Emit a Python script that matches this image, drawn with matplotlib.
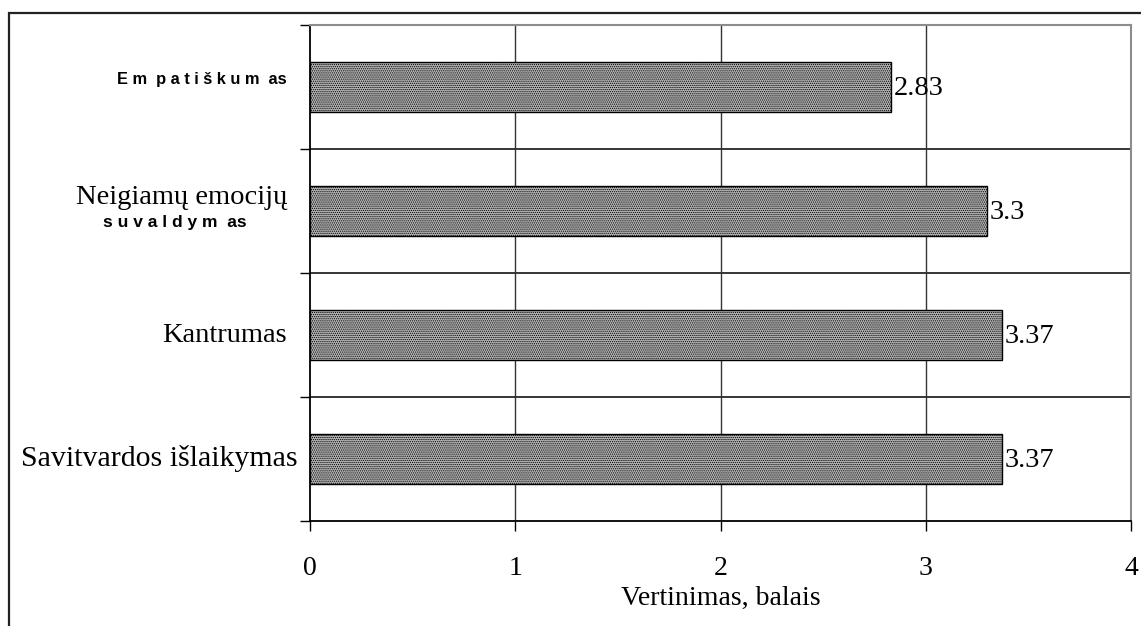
import matplotlib.pyplot as plt
from matplotlib.patches import Rectangle
from matplotlib.transforms import blended_transform_factory

# duomenys (is apacios i virsu)
kategorijos = ["Savitvardos išlaikymas", "Kantrumas", "Neigiamų emocijų suvaldymas", "Empatiškumas"]
vertes = [3.37, 3.37, 3.3, 2.83]
x_zymes = [0, 1, 2, 3, 4]

plt.rcParams['font.family'] = ['Liberation Serif', 'DejaVu Serif']
plt.rcParams['hatch.linewidth'] = 0.6

fig = plt.figure(figsize=(11.41, 6.26), dpi=100)
ax = fig.add_axes([310 / 1141, 1 - 521 / 626, 821 / 1141, 496 / 626])

# isorinis remelis
fig.patches.append(Rectangle((8.5 / 1141, -0.1), 1.2, 1 - 13 / 626 + 0.1, transform=fig.transFigure,
                             fill=False, edgecolor="#222222", linewidth=1.6))

y = list(range(len(kategorijos)))
ax.barh(y, vertes, height=0.41, color="#b4b4b4", edgecolor="black", linewidth=1.0,
        hatch="........", zorder=3)

for yi, v in zip(y, vertes):
    ax.text(v + 0.012, yi - 0.01, str(v), va="center", ha="left", fontsize=20.5, zorder=4)

ax.set_xlim(0, 4)
ax.set_ylim(-0.5, len(kategorijos) - 0.5)
ax.set_xticks(x_zymes)
ax.set_xticklabels([str(t) for t in x_zymes], fontsize=20)
ax.tick_params(axis="x", length=7, width=1, pad=18)

# ribos tarp kategoriju
ribos = [i - 0.5 for i in range(len(kategorijos) + 1)]
ax.set_yticks(ribos)
ax.set_yticklabels([])
ax.tick_params(axis="y", length=7, width=1)

for r in ribos[1:-1]:
    ax.axhline(r, color="black", linewidth=1.1, zorder=1)
for t in x_zymes[1:-1]:
    ax.axvline(t, color="#333333", linewidth=1.0, zorder=1)

ax.spines["left"].set_linewidth(1.3)
ax.spines["bottom"].set_linewidth(1.3)
ax.spines["top"].set_color("#8c8c8c")
ax.spines["right"].set_color("#8c8c8c")
ax.spines["top"].set_linewidth(1.5)
ax.spines["right"].set_linewidth(1.5)

# kategoriju pavadinimai
tr = blended_transform_factory(ax.transAxes, ax.transData)
dx = -23 / 821
mazas = dict(family=['Liberation Sans', 'DejaVu Sans'], fontweight="bold")
ax.text(-12 / 821, 0, kategorijos[0], transform=tr, ha="right", va="center", fontsize=21.5)
ax.text(dx, 1, kategorijos[1], transform=tr, ha="right", va="center", fontsize=20.5)
ax.text(dx, 2.11, "Neigiamų emocijų", transform=tr, ha="right", va="center", fontsize=20.5)
ax.text(-135 / 821, 1.91, "s u v a l d y m  as", transform=tr, ha="center", va="center",
        fontsize=12.5, **mazas)
ax.text(dx, 3.06, "E m  p a t i š k u m  as", transform=tr, ha="right", va="center",
        fontsize=11.8, **mazas)

ax.set_xlabel("Vertinimas, balais", fontsize=20, labelpad=4)

plt.savefig("out.png", dpi=100)
